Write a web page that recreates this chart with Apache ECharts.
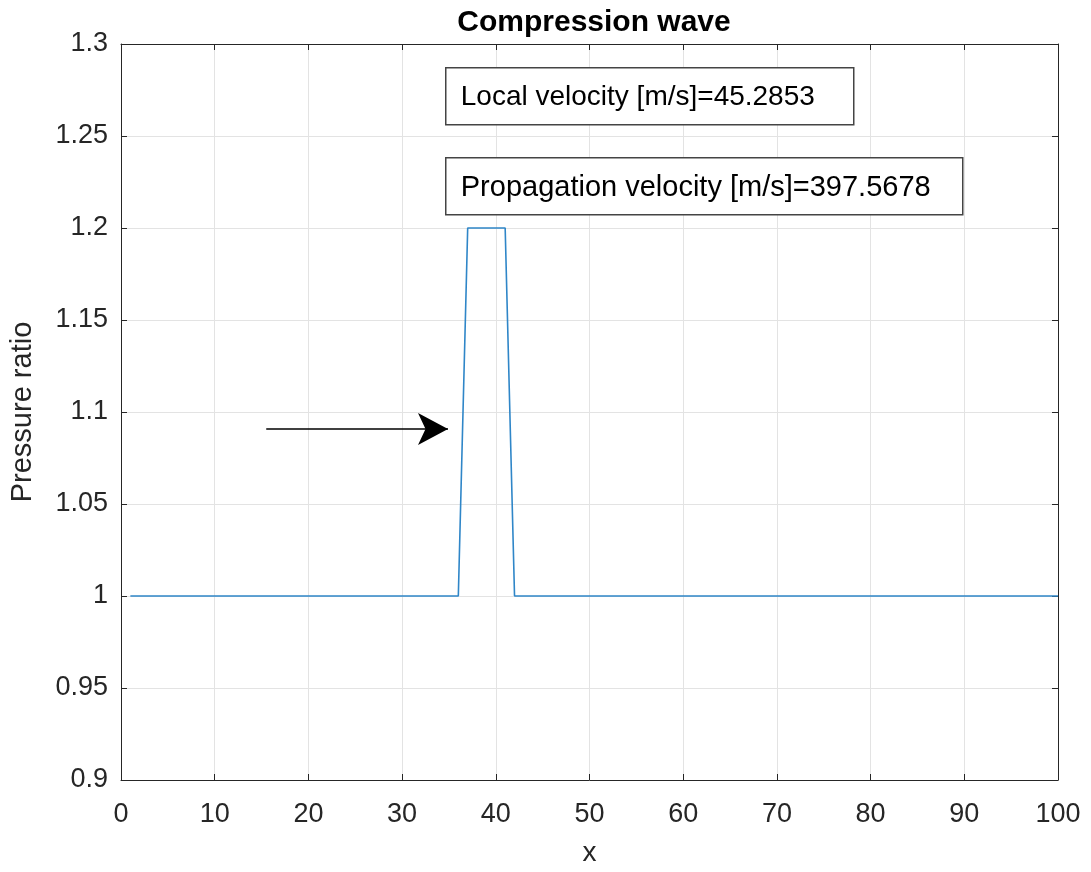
<!DOCTYPE html>
<html>
<head>
<meta charset="utf-8">
<script src="https://cdn.jsdelivr.net/npm/echarts@6/dist/echarts.min.js"></script>
<style>
  html, body { margin: 0; padding: 0; background: #fff; }
  #main { width: 1091px; height: 872px; }
</style>
</head>
<body>
<div id="main"></div>
<script>
// breakpoints of the pulse (x, pressure ratio)
const xs = [1, 36, 37, 41, 42, 100]
const ratio = [1, 1, 1.2, 1.2, 1, 1]
const xTicks = [0, 10, 20, 30, 40, 50, 60, 70, 80, 90, 100]
const yTicks = [0.9, 0.95, 1, 1.05, 1.1, 1.15, 1.2, 1.25, 1.3]
// arrow annotation, data coords
const arrowFrom = [15.5, 1.0908]
const arrowTo = [34.9, 1.0908]
const notes = ['Local velocity [m/s]=45.2853', 'Propagation velocity [m/s]=397.5678']

const font = 'Liberation Sans, Arial, Helvetica, sans-serif'
const axisCol = '#262626'

var chart = echarts.init(document.getElementById('main'))

function yLabel(v){
  // matlab style: 1 -> "1", 1.05 -> "1.05"
  return String(parseFloat(v.toFixed(2)))
}

const baseAxis = {
  axisLine: { show: true, onZero: false, lineStyle: { color: axisCol, width: 1 } },
  axisTick: { show: true, inside: true, length: 6, lineStyle: { color: axisCol } },
  splitLine: { show: false },
  axisLabel: { show: false }
}

const option = {
  animation: false,
  backgroundColor: '#fff',
  title: {
    text: 'Compression wave',
    left: 589,
    textAlign: 'center',
    top: 3,
    textStyle: { fontFamily: font, fontSize: 30, fontWeight: 'bold', color: '#000' }
  },
  grid: { left: 120, right: 33, top: 44, bottom: 90 },
  xAxis: [{
    type: 'value',
    min: 0, max: 100, interval: 10,
    name: 'x',
    nameLocation: 'middle',
    nameGap: 59,
    nameTextStyle: { fontFamily: font, fontSize: 28, color: axisCol },
    axisLine: { show: true, onZero: false, lineStyle: { color: axisCol, width: 1 } },
    axisTick: { show: true, inside: true, length: 6, lineStyle: { color: axisCol } },
    axisLabel: { fontFamily: font, fontSize: 27, color: axisCol, margin: 21 },
    splitLine: { show: true, lineStyle: { color: '#e3e3e3', width: 1 } }
  }, Object.assign({ type: 'value', position: 'top', min: 0, max: 100, interval: 10 }, baseAxis)],
  yAxis: [{
    type: 'value',
    min: 0.9, max: 1.3, interval: 0.05,
    name: 'Pressure ratio',
    nameLocation: 'middle',
    nameGap: 84,
    nameTextStyle: { fontFamily: font, fontSize: 29, color: axisCol },
    axisLine: { show: true, onZero: false, lineStyle: { color: axisCol, width: 1 } },
    axisTick: { show: true, inside: true, length: 6, lineStyle: { color: axisCol } },
    axisLabel: { fontFamily: font, fontSize: 27, color: axisCol, margin: 13, formatter: yLabel },
    splitLine: { show: true, lineStyle: { color: '#e3e3e3', width: 1 } }
  }, Object.assign({ type: 'value', position: 'right', min: 0.9, max: 1.3, interval: 0.05 }, baseAxis)],
  series: [{
    type: 'line',
    data: xs.map((x, i) => [x, ratio[i]]),
    showSymbol: false,
    lineStyle: { color: '#2f86c8', width: 1.6 },
    markLine: {
      silent: true,
      symbol: ['none', 'arrow'],
      symbolSize: [24, 30],
      label: { show: false },
      lineStyle: { color: '#000', width: 1.5, type: 'solid' },
      data: [[{ coord: arrowFrom }, { coord: arrowTo }]]
    }
  }],
  graphic: [
    {
      type: 'group', left: 445, top: 67, z: 100,
      children: [
        { type: 'rect', z: 100, shape: { width: 408, height: 57 },
          style: { fill: '#fff', stroke: '#444', lineWidth: 1.5 } },
        { type: 'text', z: 101, x: 15, y: 30,
          style: { text: notes[0], font: '28px ' + font, fill: '#000', textVerticalAlign: 'middle' } }
      ]
    },
    {
      type: 'group', left: 445, top: 157, z: 100,
      children: [
        { type: 'rect', z: 100, shape: { width: 517, height: 57 },
          style: { fill: '#fff', stroke: '#444', lineWidth: 1.5 } },
        { type: 'text', z: 101, x: 15, y: 30,
          style: { text: notes[1], font: '29px ' + font, fill: '#000', textVerticalAlign: 'middle' } }
      ]
    }
  ]
}

chart.setOption(option)
</script>
</body>
</html>
